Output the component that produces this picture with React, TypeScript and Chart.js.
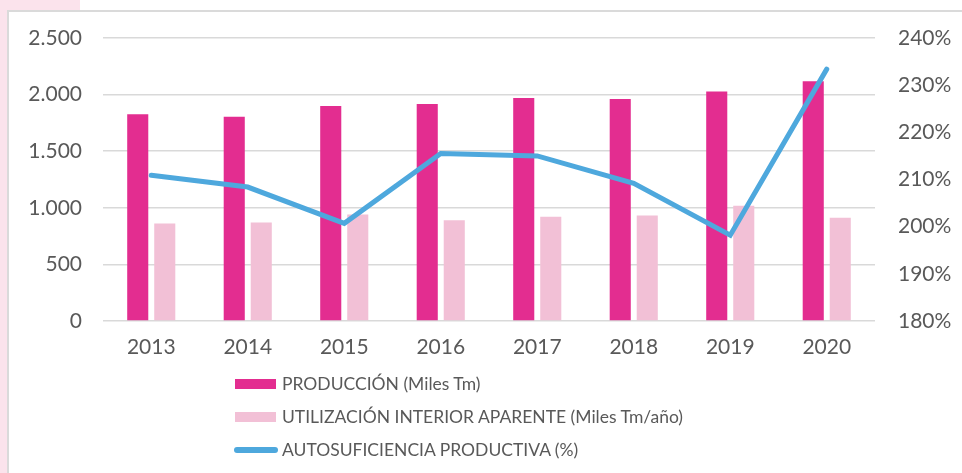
import React, { useEffect, useRef } from "react";
import { Chart, registerables } from "chart.js";

Chart.register(...registerables);

const years = ["2013", "2014", "2015", "2016", "2017", "2018", "2019", "2020"];
const produccion = [1826, 1805, 1900, 1918, 1971, 1962, 2027, 2119];
const utilizacion = [862, 871, 941, 891, 920, 933, 1018, 912];
const autosuficiencia = [210.9, 208.4, 200.7, 215.5, 215.0, 209.2, 198.2, 233.4];

const labelProd = "PRODUCCIÓN (Miles Tm)";
const labelUtil = "UTILIZACIÓN INTERIOR APARENTE (Miles Tm/año)";
const labelAuto = "AUTOSUFICIENCIA PRODUCTIVA (%)";

const colorProd = "#e32d90";
const colorUtil = "#f2c0d6";
const colorAuto = "#4ea8dd";
const textColor = "#595959";
const fontFamily = "Lato, 'Open Sans', sans-serif";

export default function App() {
  const ref = useRef<HTMLCanvasElement>(null);

  useEffect(() => {
    if (!ref.current) return;
    const chart = new Chart(ref.current, {
      type: "bar",
      data: {
        labels: years,
        datasets: [
          {
            type: "bar",
            label: labelProd,
            data: produccion,
            backgroundColor: colorProd,
            yAxisID: "y",
            order: 1,
            categoryPercentage: 0.56,
            barPercentage: 0.78,
          },
          {
            type: "bar",
            label: labelUtil,
            data: utilizacion,
            backgroundColor: colorUtil,
            yAxisID: "y",
            order: 1,
            categoryPercentage: 0.56,
            barPercentage: 0.78,
          },
          {
            type: "line",
            label: labelAuto,
            data: autosuficiencia,
            borderColor: colorAuto,
            backgroundColor: colorAuto,
            borderWidth: 5,
            pointRadius: 0,
            tension: 0,
            yAxisID: "y1",
            order: 0,
            borderCapStyle: "round",
            borderJoinStyle: "miter",
          } as any,
        ],
      },
      options: {
        responsive: false,
        animation: false,
        layout: { padding: { top: 38, left: 0, right: 0, bottom: 0 } },
        plugins: {
          legend: { display: false },
          tooltip: { enabled: false },
        },
        scales: {
          x: {
            grid: { display: false, drawTicks: false },
            border: { display: false },
            ticks: {
              color: textColor,
              font: { family: fontFamily, size: 21 },
              padding: 14,
            },
            afterFit: (s: any) => {
              s.height = 49;
            },
          },
          y: {
            position: "left",
            min: 0,
            max: 2500,
            grid: { color: "#d9d9d9", lineWidth: 1.5, drawTicks: false },
            border: { display: false },
            ticks: {
              stepSize: 500,
              color: textColor,
              font: { family: fontFamily, size: 21 },
              padding: 21,
              callback: (v: any) => Number(v).toLocaleString("de-DE"),
            },
            afterFit: (s: any) => {
              s.width = 103;
            },
          },
          y1: {
            position: "right",
            min: 180,
            max: 240,
            grid: { display: false, drawTicks: false },
            border: { display: false },
            ticks: {
              stepSize: 10,
              color: textColor,
              font: { family: fontFamily, size: 21 },
              padding: 23,
              callback: (v: any) => v + "%",
            },
            afterFit: (s: any) => {
              s.width = 87;
            },
          },
        },
      },
    });
    return () => chart.destroy();
  }, []);

  const legendRow = (top: number, swatch: React.ReactNode, text: string) => (
    <div
      style={{
        position: "absolute",
        left: 0,
        top: top - 15,
        height: 30,
        width: 962,
      }}
    >
      {swatch}
      <span
        style={{
          position: "absolute",
          left: 282,
          top: 0,
          lineHeight: "30px",
          fontFamily,
          fontSize: 17.5,
          color: textColor,
          whiteSpace: "nowrap",
        }}
      >
        {text}
      </span>
    </div>
  );

  return (
    <div
      style={{
        position: "fixed",
        left: 0,
        top: 0,
        width: 962,
        height: 473,
        overflow: "hidden",
        background: "#ffffff",
      }}
    >
      <div style={{ position: "absolute", left: 0, top: 0, width: 7, height: 473, background: "#fbe3ec" }} />
      <div style={{ position: "absolute", left: 0, top: 0, width: 80, height: 11, background: "#fbe3ec" }} />
      <div
        style={{
          position: "absolute",
          left: 7,
          top: 10,
          width: 980,
          height: 500,
          border: "2px solid #dadada",
          background: "#ffffff",
          boxSizing: "border-box",
        }}
      />
      <canvas
        ref={ref}
        width={962}
        height={370}
        style={{ position: "absolute", left: 0, top: 0, width: 962, height: 370 }}
      />
      {legendRow(
        384,
        <div style={{ position: "absolute", left: 235, top: 10, width: 41, height: 10, background: colorProd }} />,
        labelProd
      )}
      {legendRow(
        417,
        <div style={{ position: "absolute", left: 235, top: 10, width: 41, height: 10, background: colorUtil }} />,
        labelUtil
      )}
      {legendRow(
        450,
        <div
          style={{
            position: "absolute",
            left: 234,
            top: 12,
            width: 44,
            height: 6,
            borderRadius: 3,
            background: colorAuto,
          }}
        />,
        labelAuto
      )}
    </div>
  );
}
